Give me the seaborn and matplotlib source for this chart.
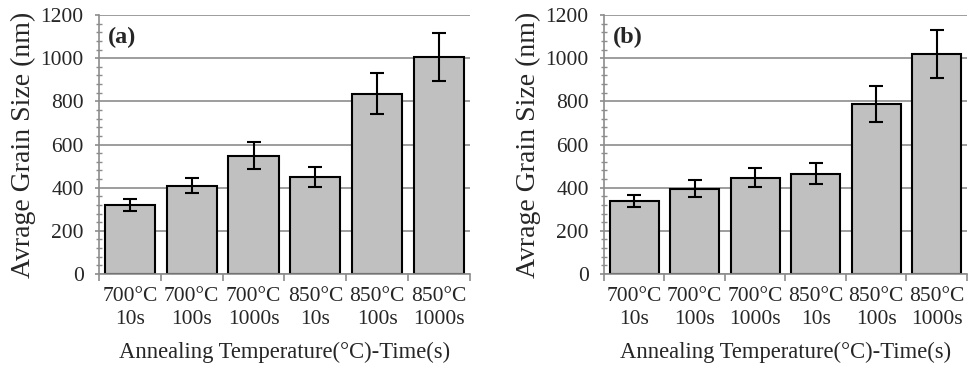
import matplotlib
matplotlib.use("Agg")
import matplotlib.pyplot as plt
import seaborn as sns
import pandas as pd
import numpy as np
from matplotlib.ticker import MultipleLocator

categories = ["700°C\n10s", "700°C\n100s", "700°C\n1000s", "850°C\n10s", "850°C\n100s", "850°C\n1000s"]
values_a = [320, 410, 548, 448, 836, 1005]
errors_a = [28, 35, 63, 47, 95, 111]
values_b = [338, 396, 447, 464, 787, 1020]
errors_b = [28, 38, 42, 49, 84, 110]
panel_labels = ["(a)", "(b)"]
ylabel = "Avrage Grain Size (nm)"
xlabel = "Annealing Temperature(°C)-Time(s)"

sns.set_style("white")
plt.rcParams["font.family"] = ["Liberation Serif", "DejaVu Serif"]

fig = plt.figure(figsize=(9.74, 3.72), dpi=100)
ax_a = fig.add_axes([0.1016, 0.2634, 0.3809, 0.6963])
ax_b = fig.add_axes([0.6201, 0.2634, 0.3727, 0.6963])

grid_col = "#8c8c8c"
for ax, vals, errs, lab in [(ax_a, values_a, errors_a, panel_labels[0]),
                            (ax_b, values_b, errors_b, panel_labels[1])]:
    df = pd.DataFrame({"cat": categories, "val": vals, "err": errs})
    sns.barplot(data=df, x="cat", y="val", ax=ax, color="#c0c0c0",
                edgecolor="black", linewidth=1.5, width=0.81, errorbar=None,
                saturation=1)
    ax.errorbar(x=np.arange(len(categories)), y=df["val"], yerr=df["err"],
                fmt="none", ecolor="black", elinewidth=1.5, capsize=5, capthick=1.5,
                zorder=5)
    ax.set_ylim(0, 1200)
    ax.set_xlim(-0.5, len(categories) - 0.5)
    ax.yaxis.set_major_locator(MultipleLocator(200))
    ax.yaxis.set_minor_locator(MultipleLocator(40))
    ax.grid(axis="y", which="major", color=grid_col, linewidth=1.2, zorder=0)
    ax.set_axisbelow(True)
    for s in ["top", "right"]:
        ax.spines[s].set_visible(False)
    for s in ["left", "bottom"]:
        ax.spines[s].set_color(grid_col)
        ax.spines[s].set_linewidth(1.2)
    ax.tick_params(axis="y", which="major", direction="out", length=3, color=grid_col,
                   width=1.2, labelsize=15.5, pad=8, left=True)
    ax.tick_params(axis="y", which="minor", direction="inout", length=5, color=grid_col,
                   width=1.0, left=True)
    # x ticks between categories
    ax.set_xticks(np.arange(len(categories)))
    ax.set_xticklabels(categories, fontsize=15.5, linespacing=1.35)
    ax.tick_params(axis="x", which="major", length=0, pad=9)
    ax.set_xticks(np.arange(len(categories) + 1) - 0.5, minor=True)
    ax.tick_params(axis="x", which="minor", direction="out", length=5, color=grid_col,
                   width=1.2, bottom=True)
    ax.set_ylabel(ylabel, fontsize=20, labelpad=3)
    ax.set_xlabel(xlabel, fontsize=16.3, labelpad=9)
    ax.text(0.025, 0.955, lab, transform=ax.transAxes, fontsize=17.5, fontweight="bold",
            va="top", ha="left")

fig.savefig("out.png", dpi=100)
